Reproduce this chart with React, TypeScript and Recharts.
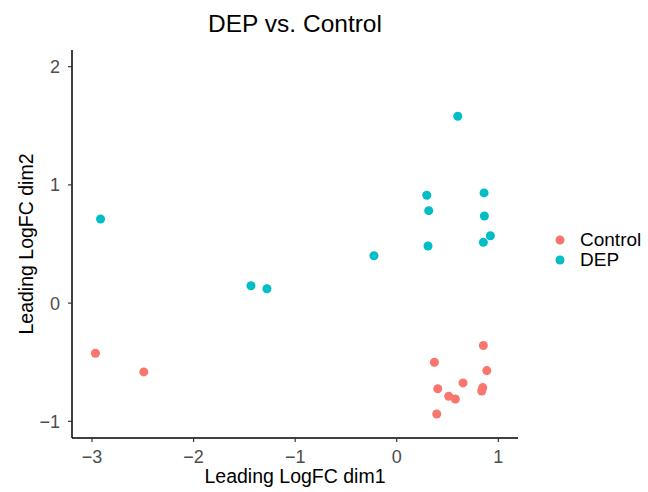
import React from "react";
import { ScatterChart, Scatter, XAxis, YAxis, ZAxis, Legend } from "recharts";

const controlX = [-2.966, -2.49, 0.853, 0.371, 0.887, 0.653, 0.404, 0.847, 0.837, 0.512, 0.577, 0.394];
const controlY = [-0.424, -0.582, -0.359, -0.5, -0.571, -0.675, -0.724, -0.715, -0.743, -0.788, -0.811, -0.938];
const depX = [-2.916, -1.435, -1.278, 0.601, 0.296, 0.315, 0.308, -0.224, 0.86, 0.863, 0.922, 0.853];
const depY = [0.712, 0.147, 0.121, 1.581, 0.912, 0.782, 0.483, 0.401, 0.932, 0.737, 0.57, 0.514];

const xTicks = [-3, -2, -1, 0, 1];
const yTicks = [-1, 0, 1, 2];
const groupNames = ["Control", "DEP"];
const groupColors = ["#F8766D", "#00BFC4"];

const toPoints = (xs: number[], ys: number[]) => xs.map((x, i) => ({ x, y: ys[i] }));
const controlData = toPoints(controlX, controlY);
const depData = toPoints(depX, depY);

const FONT = '"Liberation Sans", Arial, Helvetica, sans-serif';
const fmt = (v: number) => String(v).replace("-", "\u2212");

const XLabel = (props: any) => {
  const vb = props.viewBox || {};
  return (
    <text x={vb.x + vb.width / 2} y={vb.y + 45} textAnchor="middle" fontSize={19.5} fill="#000" fontFamily={FONT}>
      Leading LogFC dim1
    </text>
  );
};

const YLabel = (props: any) => {
  const vb = props.viewBox || {};
  const cx = 33;
  const cy = vb.y + vb.height / 2;
  return (
    <text x={cx} y={cy} textAnchor="middle" fontSize={19.5} fill="#000" fontFamily={FONT} transform={`rotate(-90, ${cx}, ${cy})`}>
      Leading LogFC dim2
    </text>
  );
};

const renderLegend = (props: any) => {
  const payload = props.payload || [];
  return (
    <div style={{ fontFamily: FONT, fontSize: 19, color: "#000" }}>
      {payload.map((p: any) => (
        <div key={p.value} style={{ display: "flex", alignItems: "center", height: 20 }}>
          <svg width={20} height={20}>
            <circle cx={10} cy={10} r={4.5} fill={p.color} />
          </svg>
          <span style={{ marginLeft: 10, lineHeight: "20px" }}>{p.value}</span>
        </div>
      ))}
    </div>
  );
};

export default function App() {
  return (
    <div style={{ position: "absolute", left: 0, top: 0, width: 648, height: 492, background: "#fff" }}>
      <div
        style={{
          position: "absolute",
          left: 0,
          top: 12,
          width: 590,
          textAlign: "center",
          fontFamily: FONT,
          fontSize: 24.5,
          lineHeight: "24.5px",
          color: "#000",
        }}
      >
        DEP vs. Control
      </div>
      <ScatterChart width={648} height={492} margin={{ top: 50, right: 130, bottom: 0, left: 0 }}>
        <XAxis
          type="number"
          dataKey="x"
          domain={[-3.197, 1.194]}
          ticks={xTicks}
          tickFormatter={fmt}
          height={54}
          tickSize={4}
          tickMargin={8}
          allowDataOverflow
          axisLine={{ stroke: "#000", strokeWidth: 1.5 }}
          tickLine={{ stroke: "#333", strokeWidth: 1.2 }}
          tick={{ fill: "#4D4D4D", fontSize: 18, fontFamily: FONT }}
          label={<XLabel />}
        />
        <YAxis
          type="number"
          dataKey="y"
          domain={[-1.141, 2.141]}
          ticks={yTicks}
          tickFormatter={fmt}
          width={72}
          tickSize={4}
          tickMargin={8}
          allowDataOverflow
          axisLine={{ stroke: "#000", strokeWidth: 1.5 }}
          tickLine={{ stroke: "#333", strokeWidth: 1.2 }}
          tick={{ fill: "#4D4D4D", fontSize: 18, fontFamily: FONT }}
          label={<YLabel />}
        />
        <ZAxis range={[64, 64]} />
        <Legend
          layout="horizontal"
          verticalAlign="middle"
          align="center"
          content={renderLegend}
          wrapperStyle={{ left: 550, top: 230, width: 98 }}
        />
        <Scatter name={groupNames[0]} data={controlData} fill={groupColors[0]} isAnimationActive={false} />
        <Scatter name={groupNames[1]} data={depData} fill={groupColors[1]} isAnimationActive={false} />
      </ScatterChart>
    </div>
  );
}
